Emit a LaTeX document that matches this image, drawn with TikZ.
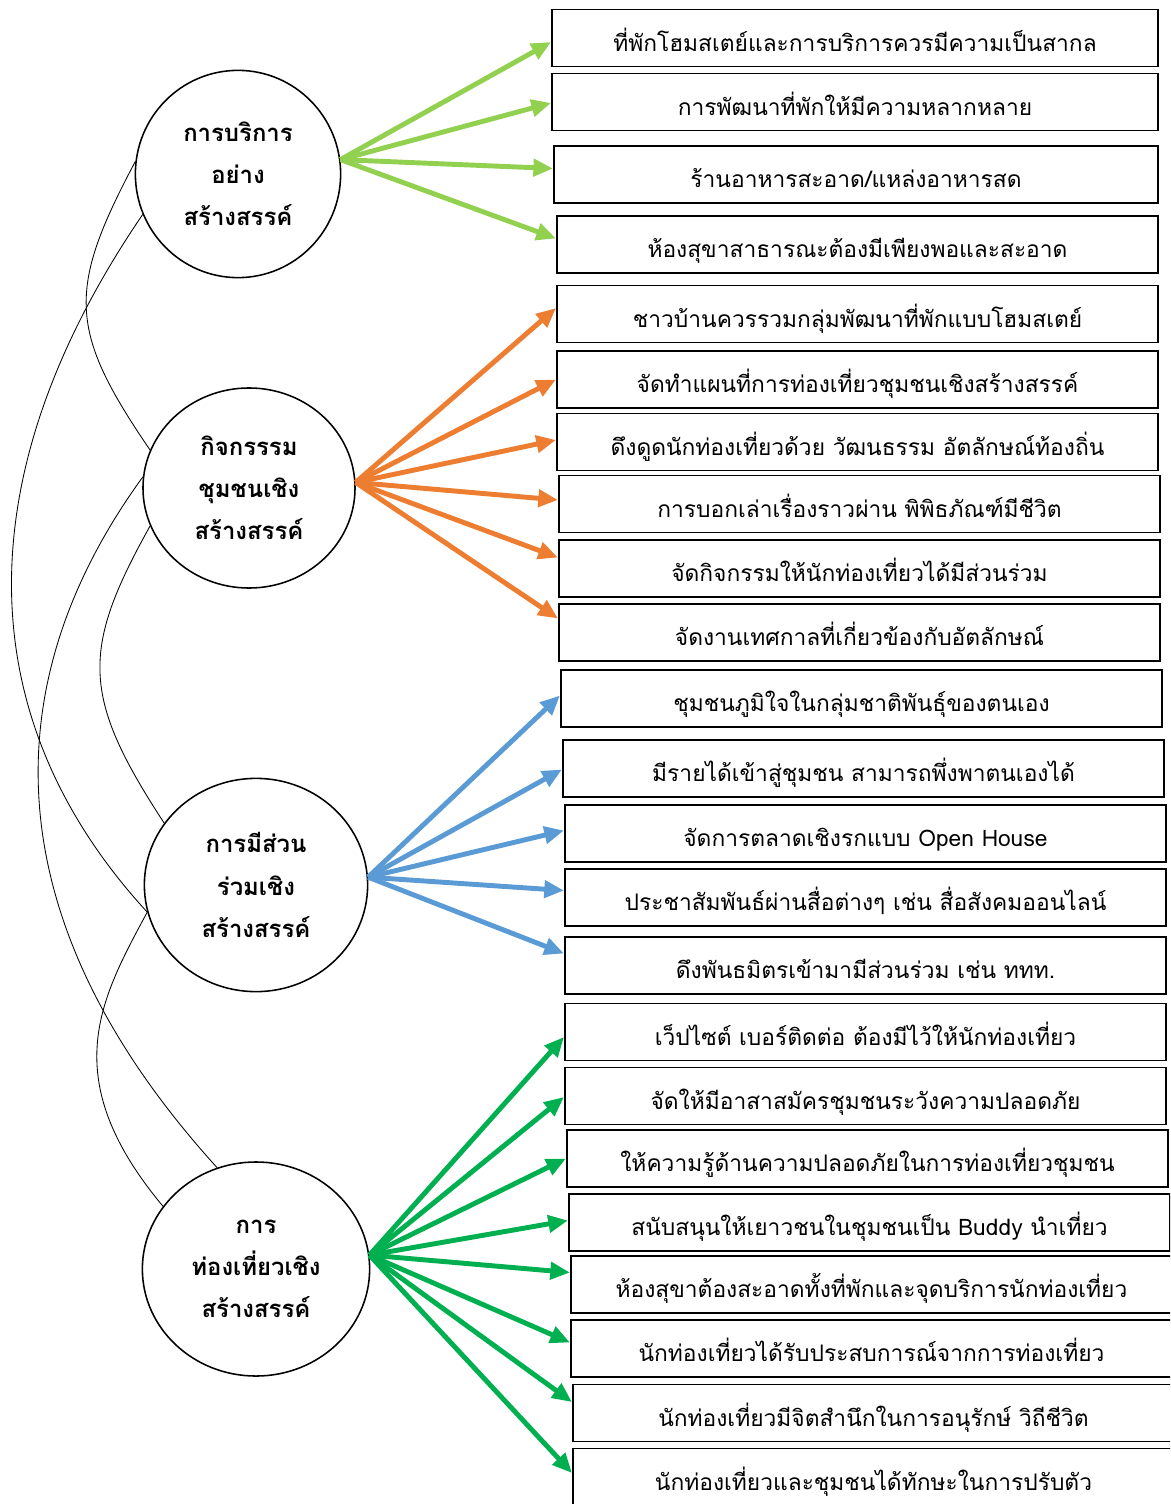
\documentclass[tikz,border=0pt]{standalone}
\usepackage{fontspec}
\setmainfont{Loma}[Script=Thai]
\usetikzlibrary{positioning, arrows.meta, shapes.geometric, calc}

\begin{document}
\begin{tikzpicture}[x=0.025cm, y=-0.025cm,
  topic/.style={draw, ellipse, line width=1.1pt, inner sep=0pt, align=center,
    font=\bfseries\fontsize{17}{30}\selectfont},
  item/.style={draw, rectangle, line width=1.2pt, minimum width=15.03cm,
    minimum height=1.42cm, inner sep=0pt, text height=19pt, text depth=0pt,
    font=\fontsize{16.2}{20}\selectfont},
  link/.style={line width=0.6pt},
  push/.style={line width=3.5pt, -{Triangle[length=14pt,width=12pt]}}]
\definecolor{grServ}{HTML}{92D050}
\definecolor{orAct}{HTML}{ED7D31}
\definecolor{blPart}{HTML}{5B9BD5}
\definecolor{grTour}{HTML}{00B050}
\useasboundingbox (0,0) rectangle (1170,1504);
\clip (0,0) rectangle (1170,1504);

% the four themes
\node[topic, minimum width=5.13cm, minimum height=5.18cm] (serv) at (238,174) {การบริการ\\อย่าง\\สร้างสรรค์};
\node[topic, minimum width=5.3cm, minimum height=5cm] (act) at (249,488) {กิจกรรรม\\ชุมชนเชิง\\สร้างสรรค์};
\node[topic, minimum width=5.58cm, minimum height=5.33cm] (part) at (256,885) {การมีส่วน\\ร่วมเชิง\\สร้างสรรค์};
\node[topic, minimum width=5.68cm, minimum height=5.35cm] (tour) at (256,1269) {การ\\ท่องเที่ยวเชิง\\สร้างสรรค์};

% the items
\node[item, minimum width=15.15cm] (b1) at (855,38) {ที่พักโฮมสเตย์และการบริการควรมีความเป็นสากล};
\node[item, minimum width=15.15cm] (b2) at (855,102) {การพัฒนาที่พักให้มีความหลากหลาย};
\node[item, minimum width=15.1cm] (b3) at (856,174.5) {ร้านอาหารสะอาด/แหล่งอาหารสด};
\node[item] (b4) at (857.5,244.5) {ห้องสุขาสาธารณะต้องมีเพียงพอและสะอาด};
\node[item] (b5) at (857.5,314) {ชาวบ้านควรรวมกลุ่มพัฒนาที่พักแบบโฮมสเตย์};
\node[item] (b6) at (857.5,379.5) {จัดทำแผนที่การท่องเที่ยวชุมชนเชิงสร้างสรรค์};
\node[item] (b7) at (857.5,442) {ดึงดูดนักท่องเที่ยวด้วย วัฒนธรรม อัตลักษณ์ท้องถิ่น};
\node[item] (b8) at (859.5,504) {การบอกเล่าเรื่องราวผ่าน พิพิธภัณฑ์มีชีวิต};
\node[item] (b9) at (859.5,568.5) {จัดกิจกรรมให้นักท่องเที่ยวได้มีส่วนร่วม};
\node[item] (b10) at (859.5,632.5) {จัดงานเทศกาลที่เกี่ยวข้องกับอัตลักษณ์};
\node[item] (b11) at (861.5,698.5) {ชุมชนภูมิใจในกลุ่มชาติพันธุ์ของตนเอง};
\node[item] (b12) at (863.5,768.5) {มีรายได้เข้าสู่ชุมชน สามารถพึ่งพาตนเองได้};
\node[item] (b13) at (865.5,833.5) {จัดการตลาดเชิงรกแบบ Open House};
\node[item] (b14) at (865.5,897.5) {ประชาสัมพันธ์ผ่านสื่อต่างๆ เช่น สื่อสังคมออนไลน์};
\node[item] (b15) at (865.5,965.5) {ดึงพันธมิตรเข้ามามีส่วนร่วม เช่น ททท.};
\node[item] (b16) at (865.5,1032) {เว็ปไซต์ เบอร์ติดต่อ ต้องมีไว้ให้นักท่องเที่ยว};
\node[item] (b17) at (865.5,1096) {จัดให้มีอาสาสมัครชุมชนระวังความปลอดภัย};
\node[item] (b18) at (867.5,1158.5) {ให้ความรู้ด้านความปลอดภัยในการท่องเที่ยวชุมชน};
\node[item] (b19) at (869.5,1222.5) {สนับสนุนให้เยาวชนในชุมชนเป็น Buddy นำเที่ยว};
\node[item] (b20) at (871.5,1284.5) {ห้องสุขาต้องสะอาดทั้งที่พักและจุดบริการนักท่องเที่ยว};
\node[item] (b21) at (871.5,1348.5) {นักท่องเที่ยวได้รับประสบการณ์จากการท่องเที่ยว};
\node[item] (b22) at (873.5,1413) {นักท่องเที่ยวมีจิตสำนึกในการอนุรักษ์ วิถีชีวิต};
\node[item] (b23) at (873.5,1477) {นักท่องเที่ยวและชุมชนได้ทักษะในการปรับตัว};

% arrows from each theme
\foreach \i/\d in {1/4, 2/1, 3/-6, 4/-6}
  \draw[push, grServ] (serv.8) -- ($(b\i.west)+(0,\d)$);
\foreach \i/\d in {5/-6, 6/0, 7/-2, 8/-4, 9/-11, 10/-14}
  \draw[push, orAct] (act.3) -- ($(b\i.west)+(0,\d)$);
\foreach \i/\d in {11/-3, 12/1, 13/-3, 14/-7, 15/-12}
  \draw[push, blPart] (part.4) -- ($(b\i.west)+(0,\d)$);
\foreach \i/\d in {16/5, 17/1, 18/0, 19/-2, 20/-12, 21/-6, 22/-11, 23/-4}
  \draw[push, grTour] (tour.7) -- ($(b\i.west)+(0,\d)$);

% links between the themes
\draw[link] (serv.173) .. controls (67,290) and (68,330) .. (act.159);
\draw[link] (serv.203) .. controls (-33,472) and (-33,716) .. (part.194);
\draw[link] (act.201) .. controls (81,650) and (81,696) .. (part.146);
\draw[link] (act.174) .. controls (-10,687) and (-4,924) .. (tour.111);
\draw[link] (part.194) .. controls (100,1000) and (56,1078) .. (tour.146);
\end{tikzpicture}
\end{document}
